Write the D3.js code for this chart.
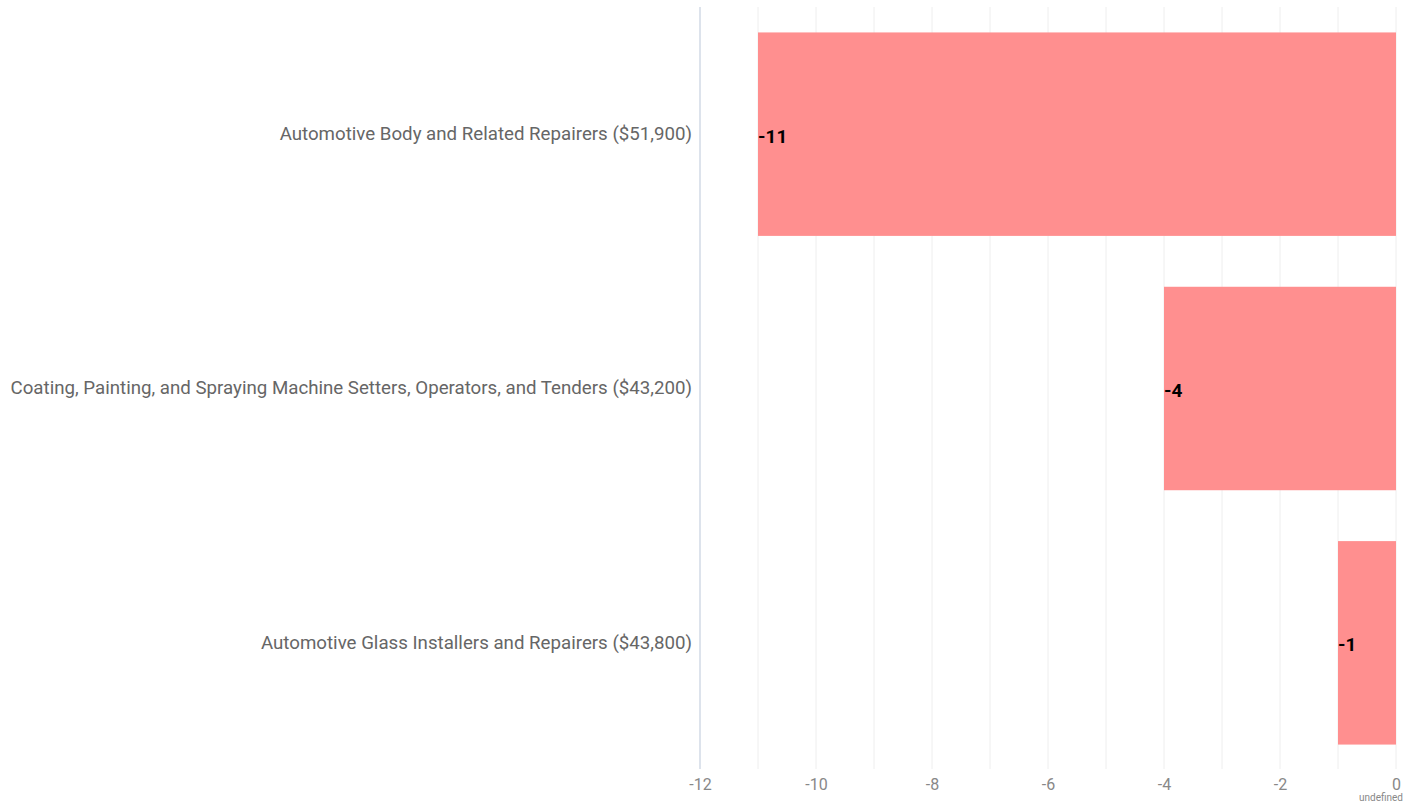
<!DOCTYPE html>
<html>
<head>
<meta charset="utf-8">
<script src="https://cdn.jsdelivr.net/npm/d3@7"></script>
<style>
  body { margin: 0; background: #fff; }
  svg text { font-family: Roboto, "Noto Sans", sans-serif; }
</style>
</head>
<body>
<div id="chart"></div>
<script>
var categories = [
  "Automotive Body and Related Repairers ($51,900)",
  "Coating, Painting, and Spraying Machine Setters, Operators, and Tenders ($43,200)",
  "Automotive Glass Installers and Repairers ($43,800)"
];
var values = [-11, -4, -1];
var xTicks = [-12, -10, -8, -6, -4, -2, 0];

var svgWidth = 1421, svgHeight = 808;
var margin = {top: 7, right: 25, bottom: 39, left: 700};
var width = svgWidth - margin.left - margin.right;
var height = svgHeight - margin.top - margin.bottom;

var svg = d3.select("#chart")
  .append("svg")
  .attr("width", svgWidth)
  .attr("height", svgHeight);

var g = svg.append("g")
  .attr("transform", "translate(" + margin.left + "," + margin.top + ")");

var x = d3.scaleLinear()
  .domain([-12, 0])
  .range([0, width]);

var y = d3.scaleBand()
  .domain(categories)
  .range([0, height + 1])
  .paddingInner(0.2)
  .paddingOuter(0.1);

// gridlines every unit
g.append("g")
  .selectAll("line")
  .data(d3.range(-11, 1))
  .join("line")
    .attr("x1", function(d) { return x(d); })
    .attr("x2", function(d) { return x(d); })
    .attr("y1", 0)
    .attr("y2", height)
    .attr("stroke", "#eeeeee")
    .attr("stroke-width", 1);

// bottom axis labels
var xAxis = g.append("g")
  .attr("transform", "translate(0," + height + ")")
  .call(d3.axisBottom(x).tickValues(xTicks).tickSize(0).tickPadding(10).tickFormat(function(d) { return String(d); }));
xAxis.attr("font-family", null);
xAxis.select(".domain").remove();
xAxis.selectAll("text")
  .attr("fill", "#888")
  .style("font-size", "16px");

// left axis
var yAxis = g.append("g")
  .call(d3.axisLeft(y).tickSize(0).tickPadding(8));
yAxis.attr("font-family", null);
yAxis.select(".domain")
  .attr("stroke", "#dde3ec")
  .attr("stroke-width", 2)
  .attr("d", "M0," + 0 + "V" + height);
yAxis.selectAll("text")
  .attr("fill", "#666")
  .style("font-size", "18.7px");

// bars
g.append("g")
  .selectAll("rect")
  .data(values)
  .join("rect")
    .attr("x", function(d) { return x(d); })
    .attr("y", function(d, i) { return y(categories[i]); })
    .attr("width", function(d) { return x(0) - x(d); })
    .attr("height", y.bandwidth())
    .attr("fill", "#ff8f8f");

// value labels
g.append("g")
  .selectAll("text")
  .data(values)
  .join("text")
    .attr("x", function(d) { return x(d); })
    .attr("y", function(d, i) { return y(categories[i]) + y.bandwidth() / 2 + 2; })
    .attr("dy", "0.35em")
    .attr("fill", "#000")
    .style("font-size", "19px")
    .style("font-weight", "bold")
    .text(function(d) { return d; });

svg.append("text")
  .attr("x", svgWidth - 18)
  .attr("y", 801)
  .attr("text-anchor", "end")
  .attr("fill", "#888")
  .style("font-size", "10px")
  .text("undefined");
</script>
</body>
</html>
